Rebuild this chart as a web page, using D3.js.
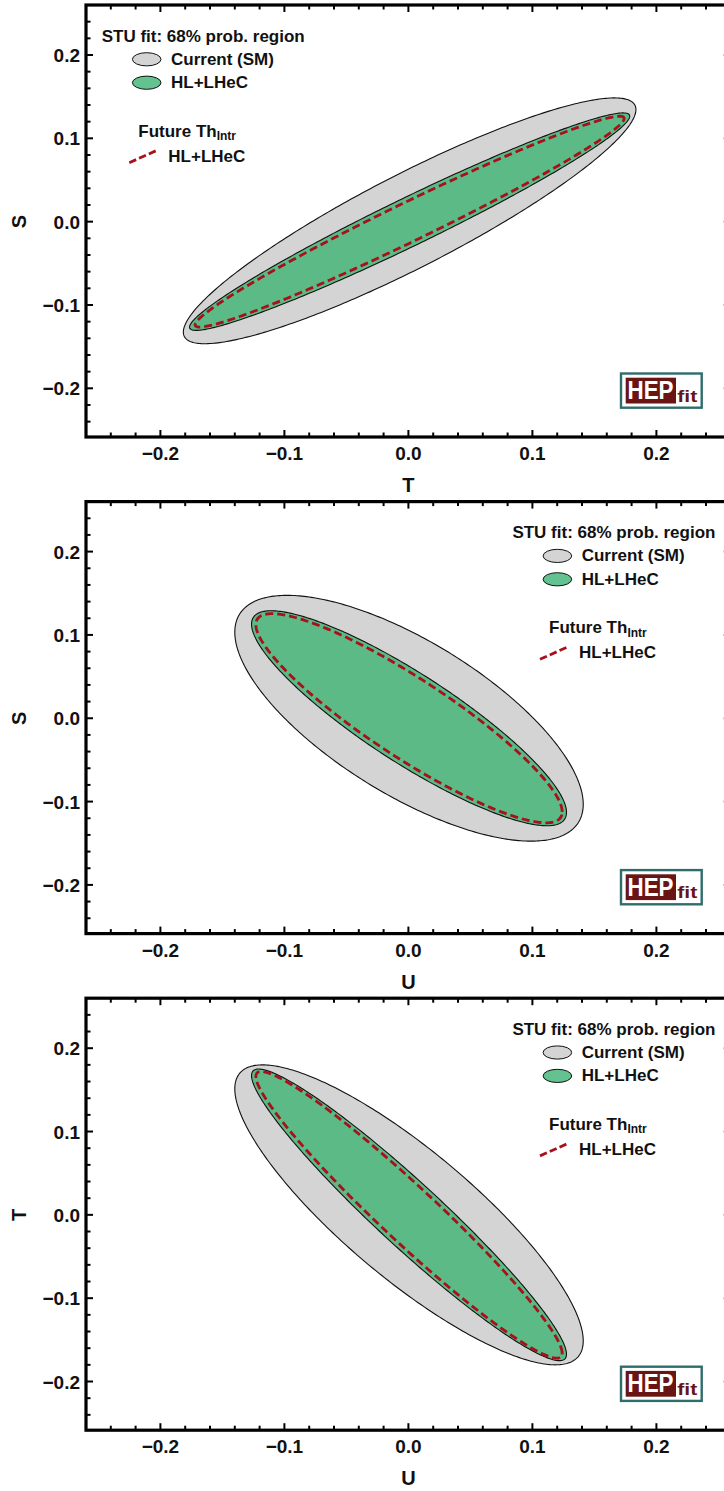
<!DOCTYPE html>
<html><head><meta charset="utf-8">
<script src="https://cdn.jsdelivr.net/npm/d3@7"></script>
<style>
body{margin:0;background:#fff}
text{font-family:"Liberation Sans",Arial,sans-serif;font-weight:bold;fill:#111}
</style>
</head><body><svg id="c" width="724" height="1491"></svg>
<script>
// ---------- data ----------
const xTitles = ["T", "U", "U"];
const yTitles = ["S", "S", "T"];
const tickValues = [-0.2, -0.1, 0.0, 0.1, 0.2];
const tickLabels = ["\u22120.2", "\u22120.1", "0.0", "0.1", "0.2"];
const axisDomain = [-0.26, 0.26];
const minorStep = 0.02;
// 68% regions: [centerX, centerY, halfExtentX, halfExtentY, correlation]
const currentSM  = [[0.001, 0.001, 0.1825, 0.1475, 0.905],
                    [0.0005, 0.0,  0.1405, 0.1475, -0.70],
                    [0.0005, 0.0,  0.1405, 0.1800, -0.84]];
const hlLHeC     = [[0.001, 0.0,   0.1775, 0.1305, 0.970],
                    [0.0005, 0.0,  0.1270, 0.1290, -0.875],
                    [0.0005, 0.0,  0.1270, 0.1750, -0.955]];
const futureThHL = [[0.001, 0.0,   0.1730, 0.1265, 0.979],
                    [0.0005, 0.0,  0.1235, 0.1255, -0.895],
                    [0.0005, 0.0,  0.1235, 0.1720, -0.965]];
const legendTitle = "STU fit: 68% prob. region";
const legendNames = ["Current (SM)", "HL+LHeC"];
const futureLabel = ["Future Th", "Intr"];
const futureName = "HL+LHeC";
const legendShift = [0, 410.7, 410.7];

// ---------- layout ----------
const svg = d3.select("#c");
const panelStep = 496.6, top0 = 5, plotH = 432, left = 86, right = 730.8;
const colGray = "#d4d4d4", colGreen = "#5bba86", colGreenLeg = "#63c28f", colRed = "#a8111c";
const teal = "#2f6d6d", maroon = "#6a1515";

function ellipsePts(p) {
  const [cx, cy, a, b, r] = p, s = Math.sqrt(1 - r * r);
  return d3.range(0, 360, 1).map(d => {
    const t = d * Math.PI / 180;
    return [cx + a * Math.cos(t), cy + b * (r * Math.cos(t) + s * Math.sin(t))];
  });
}

for (let k = 0; k < 3; k++) {
  const top = top0 + k * panelStep, bottom = top + plotH;
  const x = d3.scaleLinear().domain(axisDomain).range([left, right]);
  const y = d3.scaleLinear().domain(axisDomain).range([top + 433.3, top]);
  const g = svg.append("g");
  const clipId = "clip" + k;
  g.append("clipPath").attr("id", clipId).append("rect")
    .attr("x", left).attr("y", top).attr("width", right - left).attr("height", plotH);
  const pg = g.append("g").attr("clip-path", `url(#${clipId})`);
  const line = d3.line().x(d => x(d[0])).y(d => y(d[1])).curve(d3.curveLinearClosed);

  pg.append("path").attr("d", line(ellipsePts(currentSM[k])))
    .attr("fill", colGray).attr("stroke", "#111").attr("stroke-width", 1.1);
  pg.append("path").attr("d", line(ellipsePts(hlLHeC[k])))
    .attr("fill", colGreen).attr("stroke", "#111").attr("stroke-width", 1.1);
  pg.append("path").attr("d", line(ellipsePts(futureThHL[k])))
    .attr("fill", "none").attr("stroke", colRed).attr("stroke-width", 2.8)
    .attr("stroke-dasharray", "8,4");

  // ticks (minor + major) on all frame sides, pointing inward
  const minorVals = d3.range(-0.26, 0.2601, minorStep).map(v => Math.round(v * 100) / 100);
  const isMajor = v => Math.abs(Math.round(v * 10) - v * 10) < 1e-6;
  minorVals.forEach(v => {
    const len = isMajor(v) ? 7 : 4.5;
    const xv = x(v), yv = y(v);
    if (xv > left + 1 && xv < right - 1) {
      g.append("line").attr("x1", xv).attr("x2", xv).attr("y1", bottom).attr("y2", bottom - len)
        .attr("stroke", "#000").attr("stroke-width", 2);
      g.append("line").attr("x1", xv).attr("x2", xv).attr("y1", top).attr("y2", top + len)
        .attr("stroke", "#000").attr("stroke-width", 2);
    }
    if (yv > top + 1 && yv < bottom - 1) {
      g.append("line").attr("x1", left).attr("x2", left + len).attr("y1", yv).attr("y2", yv)
        .attr("stroke", "#000").attr("stroke-width", 2);
      g.append("line").attr("x1", right).attr("x2", right - len).attr("y1", yv).attr("y2", yv)
        .attr("stroke", "#000").attr("stroke-width", 2);
    }
  });
  // frame
  g.append("rect").attr("x", left).attr("y", top).attr("width", right - left).attr("height", plotH)
    .attr("fill", "none").attr("stroke", "#000").attr("stroke-width", 3.2);

  // tick labels
  tickValues.forEach((v, i) => {
    g.append("text").attr("x", x(v)).attr("y", bottom + 23).attr("text-anchor", "middle")
      .attr("font-size", 19).text(tickLabels[i]);
    g.append("text").attr("x", 80).attr("y", y(v) + 7).attr("text-anchor", "end")
      .attr("font-size", 19).text(tickLabels[i]);
  });
  // axis titles
  g.append("text").attr("x", x(0)).attr("y", bottom + 55).attr("text-anchor", "middle")
    .attr("font-size", 20).text(xTitles[k]);
  g.append("text").attr("transform", `translate(26,${y(0)}) rotate(-90)`)
    .attr("text-anchor", "middle").attr("font-size", 20).text(yTitles[k]);

  // legend
  const dx = legendShift[k];
  const lg = g.append("g").attr("transform", `translate(${dx},${top})`);
  lg.append("text").attr("x", 101.7).attr("y", 36.7).attr("font-size", 17).text(legendTitle);
  lg.append("ellipse").attr("cx", 146.7).attr("cy", 54.3).attr("rx", 14.3).attr("ry", 6.6)
    .attr("fill", colGray).attr("stroke", "#111").attr("stroke-width", 1);
  lg.append("text").attr("x", 171).attr("y", 59.8).attr("font-size", 17).text(legendNames[0]);
  lg.append("ellipse").attr("cx", 146.7).attr("cy", 77.7).attr("rx", 14.3).attr("ry", 6.6)
    .attr("fill", colGreenLeg).attr("stroke", "#111").attr("stroke-width", 1);
  lg.append("text").attr("x", 171).attr("y", 83.2).attr("font-size", 17).text(legendNames[1]);
  const ft = lg.append("text").attr("x", 138.3).attr("y", 131.7).attr("font-size", 17);
  ft.append("tspan").text(futureLabel[0]);
  ft.append("tspan").attr("font-size", 12).attr("dy", 3.5).text(futureLabel[1]);
  lg.append("line").attr("x1", 129.3).attr("y1", 157.7).attr("x2", 157.7).attr("y2", 145)
    .attr("stroke", colRed).attr("stroke-width", 2.8).attr("stroke-dasharray", "7.5,3.2");
  lg.append("text").attr("x", 168.3).attr("y", 156.7).attr("font-size", 17).text(futureName);

  // HEPfit logo
  const lo = g.append("g").attr("transform", `translate(0,${top})`);
  lo.append("rect").attr("x", 621).attr("y", 368.5).attr("width", 80.7).attr("height", 34.2)
    .attr("fill", "#fff").attr("stroke", teal).attr("stroke-width", 2.4);
  lo.append("rect").attr("x", 625.7).attr("y", 372.7).attr("width", 50.3).attr("height", 25.8)
    .attr("fill", maroon);
  lo.append("text").attr("x", 627.5).attr("y", 394.3).attr("font-size", 25.5)
    .attr("textLength", 46).attr("lengthAdjust", "spacingAndGlyphs")
    .style("fill", "#fff").text("HEP");
  lo.append("text").attr("x", 677.3).attr("y", 396.8).attr("font-size", 17)
    .attr("textLength", 20).attr("lengthAdjust", "spacingAndGlyphs")
    .style("fill", maroon).text("fit");
}
</script>
</body></html>
